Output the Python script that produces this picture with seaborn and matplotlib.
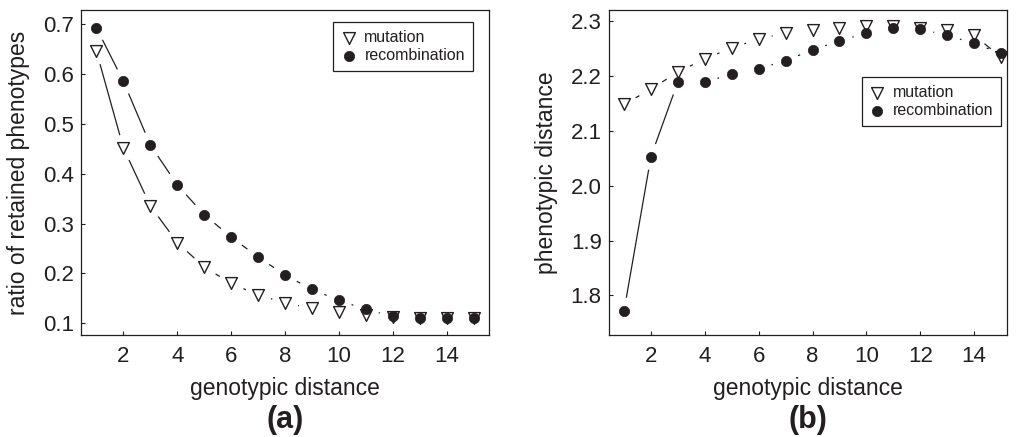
import numpy as np
import matplotlib
matplotlib.use("Agg")
import matplotlib.pyplot as plt
import seaborn as sns
from matplotlib.collections import LineCollection

# genotypic distance (x axis of both panels)
distance = list(range(1, 16))

# (a) ratio of retained phenotypes
retained_mutation = [0.646, 0.452, 0.336, 0.262, 0.213, 0.180, 0.157, 0.141,
                     0.130, 0.122, 0.116, 0.113, 0.111, 0.111, 0.111]
retained_recombination = [0.693, 0.586, 0.458, 0.378, 0.318, 0.273, 0.233, 0.197,
                          0.168, 0.146, 0.128, 0.114, 0.110, 0.110, 0.110]

# (b) phenotypic distance
pheno_mutation = [2.148, 2.176, 2.207, 2.231, 2.251, 2.267, 2.278, 2.284,
                  2.288, 2.290, 2.290, 2.288, 2.283, 2.274, 2.234]
pheno_recombination = [1.772, 2.053, 2.189, 2.188, 2.204, 2.213, 2.228, 2.247,
                       2.264, 2.278, 2.287, 2.285, 2.274, 2.259, 2.241]

sns.set_theme(style="white")
plt.rcParams["font.family"] = ["Liberation Sans", "DejaVu Sans"]

INK = "#231f20"
GAP_PX = 13.3


def gapped_line(ax, x, y):
    """Connect consecutive points with straight segments that stop short of the markers."""
    pts = ax.transData.transform(np.column_stack([x, y]))
    inv = ax.transData.inverted()
    segs = []
    for p, q in zip(pts[:-1], pts[1:]):
        d = q - p
        length = np.hypot(*d)
        if length <= 2 * GAP_PX + 0.8:
            continue
        u = d / length
        segs.append(inv.transform(np.array([p + u * GAP_PX, q - u * GAP_PX])))
    ax.add_collection(LineCollection(segs, colors=INK, linewidths=0.9, zorder=2))


def draw_panel(ax, y_mut, y_rec, xlim, ylim, yticks, ylabel, ylabelpad, tag,
               legend_anchor):
    ax.set_xlim(*xlim)
    ax.set_ylim(*ylim)
    gapped_line(ax, distance, y_mut)
    gapped_line(ax, distance, y_rec)
    sns.scatterplot(x=distance, y=y_mut, marker="v", s=72, color="white",
                    edgecolor=INK, linewidth=1.0, label="mutation", ax=ax, zorder=3)
    sns.scatterplot(x=distance, y=y_rec, marker="o", s=55, color=INK,
                    edgecolor=INK, linewidth=0.5, label="recombination", ax=ax, zorder=4)
    ax.set_xlim(*xlim)
    ax.set_ylim(*ylim)
    ax.set_xticks([2, 4, 6, 8, 10, 12, 14])
    ax.set_yticks(yticks)
    ax.set_yticklabels([f"{v:.1f}" for v in yticks])
    ax.tick_params(axis="both", direction="in", length=3, width=0.8, colors=INK,
                   labelsize=16, pad=5)
    ax.tick_params(axis="x", pad=8)
    ax.tick_params(left=True, bottom=True)
    for sp in ax.spines.values():
        sp.set_color(INK)
        sp.set_linewidth(0.9)
    ax.set_xlabel("genotypic distance", fontsize=16.5, color=INK, labelpad=7)
    ax.set_ylabel(ylabel, fontsize=16.5, color=INK, labelpad=ylabelpad)
    leg = ax.legend(loc="upper right", bbox_to_anchor=legend_anchor, fontsize=11.5,
                    frameon=True, fancybox=False, edgecolor=INK, framealpha=1,
                    handlelength=1.0, handletextpad=0.45, borderpad=0.5,
                    labelspacing=0.2, borderaxespad=0)
    leg.get_frame().set_linewidth(0.9)
    for t in leg.get_texts():
        t.set_color(INK)
    bbox = ax.get_position()
    ax.figure.text(bbox.x0 + bbox.width / 2, 0.039, tag, ha="center", va="center",
                   fontsize=22, fontweight="bold", color=INK)


fig = plt.figure(figsize=(10.17, 4.37), dpi=100)
ax_a = fig.add_axes([0.080, 0.2334, 0.4006, 0.7437])
ax_b = fig.add_axes([0.5985, 0.2334, 0.3914, 0.7437])

draw_panel(ax_a, retained_mutation, retained_recombination,
           xlim=(0.44, 15.56), ylim=(0.0765, 0.729),
           yticks=[0.1, 0.2, 0.3, 0.4, 0.5, 0.6, 0.7],
           ylabel="ratio of retained phenotypes", ylabelpad=10, tag="(a)",
           legend_anchor=(0.961, 0.963))
draw_panel(ax_b, pheno_mutation, pheno_recombination,
           xlim=(0.43, 15.21), ylim=(1.728, 2.32),
           yticks=[1.8, 1.9, 2.0, 2.1, 2.2, 2.3],
           ylabel="phenotypic distance", ylabelpad=9, tag="(b)",
           legend_anchor=(0.986, 0.794))

fig.savefig("out.png", dpi=100)
